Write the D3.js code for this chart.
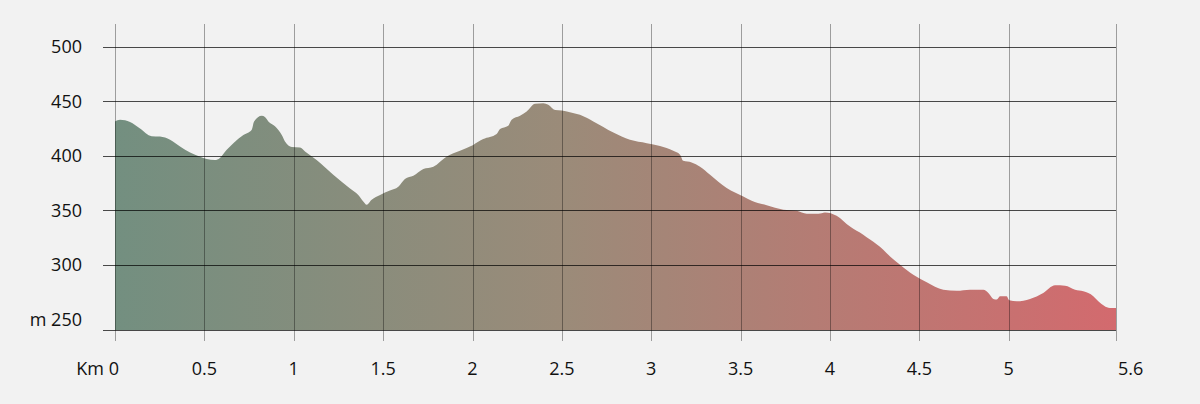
<!DOCTYPE html>
<html>
<head>
<meta charset="utf-8">
<script src="https://cdn.jsdelivr.net/npm/d3@7"></script>
<style>
  html, body { margin: 0; padding: 0; background: #f2f2f2; }
  svg { display: block; }
  text { font-family: "Open Sans", "Noto Sans", sans-serif; font-size: 18px; fill: #111; }
</style>
</head>
<body>
<svg id="chart" width="1200" height="404"></svg>
<script>
// distance along route (km)
const distKm = [0, 0.028, 0.084, 0.140, 0.205, 0.252, 0.308, 0.364, 0.420, 0.476, 0.513, 0.559, 0.587, 0.625, 0.662, 0.718, 0.765, 0.778, 0.821, 0.839, 0.858, 0.895, 0.933, 0.951, 0.989, 1.035, 1.063, 1.128, 1.221, 1.315, 1.361, 1.389, 1.408, 1.436, 1.483, 1.538, 1.585, 1.622, 1.669, 1.725, 1.781, 1.856, 1.930, 2.004, 2.060, 2.135, 2.154, 2.200, 2.219, 2.266, 2.303, 2.350, 2.396, 2.424, 2.462, 2.499, 2.545, 2.601, 2.676, 2.788, 2.881, 2.975, 3.049, 3.123, 3.161, 3.179, 3.226, 3.273, 3.329, 3.422, 3.515, 3.562, 3.646, 3.739, 3.814, 3.870, 3.935, 3.972, 4.037, 4.112, 4.186, 4.224, 4.298, 4.336, 4.392, 4.466, 4.541, 4.634, 4.709, 4.783, 4.858, 4.886, 4.914, 4.933, 4.951, 4.988, 5.003, 5.045, 5.119, 5.193, 5.259, 5.315, 5.371, 5.417, 5.473, 5.501, 5.566, 5.600];
// elevation (m)
const elevM = [431.5, 433, 431, 425, 418, 417.7, 414.7, 408.5, 403, 399, 397, 396, 398, 405.5, 411.6, 419, 424, 431.5, 436.7, 435.5, 431.5, 427, 419, 413, 408, 407.6, 404, 396, 382.6, 370, 364, 358, 355, 359.6, 364, 368, 371.5, 378.6, 381.6, 387.8, 390, 399.4, 404.6, 410, 415.3, 420, 424.5, 427.5, 433, 436.7, 440.6, 447.7, 448.3, 446.8, 442, 441.6, 440, 437.6, 431.5, 421.4, 414.7, 411.6, 409, 404.6, 401, 395.4, 393.9, 390, 382.6, 370.4, 362.7, 358.7, 354.5, 350.5, 349.5, 346.8, 346.8, 348, 345, 335, 327.5, 323, 313.8, 307.6, 300, 290.8, 283.8, 277, 276, 277, 277, 274, 268.5, 268, 271, 271, 267.3, 266.4, 268.5, 274, 281, 280.7, 277, 275.5, 271, 266.4, 260.3, 260.3];

const xTicks = [0, 0.5, 1, 1.5, 2, 2.5, 3, 3.5, 4, 4.5, 5, 5.6];
const xTickLabels = ["Km 0", "0.5", "1", "1.5", "2", "2.5", "3", "3.5", "4", "4.5", "5", "5.6"];
const yTicks = [250, 300, 350, 400, 450, 500];
const yTickLabels = ["m 250", "300", "350", "400", "450", "500"];

const yMin = 240, yMax = 521;
const svg = d3.select("#chart");
const x = d3.scaleLinear().domain([0, 5.6]).range([115, 1116]);
const y = d3.scaleLinear().domain([yMin, yMax]).range([330, 24]);

const data = distKm.map((d, i) => ({ d, e: elevM[i] }));

// gradient
const defs = svg.append("defs");
const grad = defs.append("linearGradient").attr("id", "g")
  .attr("gradientUnits", "userSpaceOnUse")
  .attr("x1", x(0)).attr("x2", x(5.6)).attr("y1", 0).attr("y2", 0);
grad.append("stop").attr("offset", "0%").attr("stop-color", "#738f80");
grad.append("stop").attr("offset", "45%").attr("stop-color", "#9b8b79");
grad.append("stop").attr("offset", "100%").attr("stop-color", "#d36a6e");

const area = d3.area().x(p => x(p.d)).y0(y(yMin)).y1(p => y(p.e)).curve(d3.curveMonotoneX);
svg.append("path").datum(data).attr("d", area).attr("fill", "url(#g)");

// vertical gridlines
svg.append("g").selectAll("line").data(xTicks).join("line")
  .attr("x1", d => Math.round(x(d)) + 0.5).attr("x2", d => Math.round(x(d)) + 0.5)
  .attr("y1", y(yMax)).attr("y2", y(yMin) + 11)
  .attr("stroke", "#000").attr("stroke-opacity", 0.35).attr("stroke-width", 1);

// horizontal gridlines (lowest one sits on the baseline)
const hPos = v => (v === yTicks[0] ? y(yMin) : y(v));
svg.append("g").selectAll("line").data(yTicks).join("line")
  .attr("x1", x(0) - 12).attr("x2", x(5.6))
  .attr("y1", d => Math.round(hPos(d)) + 0.5).attr("y2", d => Math.round(hPos(d)) + 0.5)
  .attr("stroke", "#000").attr("stroke-opacity", 0.7).attr("stroke-width", 1);

// y labels
svg.append("g").selectAll("text").data(yTicks).join("text")
  .attr("x", 82).attr("y", d => y(d) + 6.5)
  .attr("text-anchor", "end")
  .text((d, i) => yTickLabels[i]);

// x labels
svg.append("g").selectAll("text").data(xTicks).join("text")
  .attr("x", (d, i) => i === 0 ? x(d) + 4 : (i === xTicks.length - 1 ? x(d) + 2 : x(d)))
  .attr("y", 375)
  .attr("text-anchor", (d, i) => i === 0 ? "end" : (i === xTicks.length - 1 ? "start" : "middle"))
  .text((d, i) => xTickLabels[i]);
</script>
</body>
</html>
